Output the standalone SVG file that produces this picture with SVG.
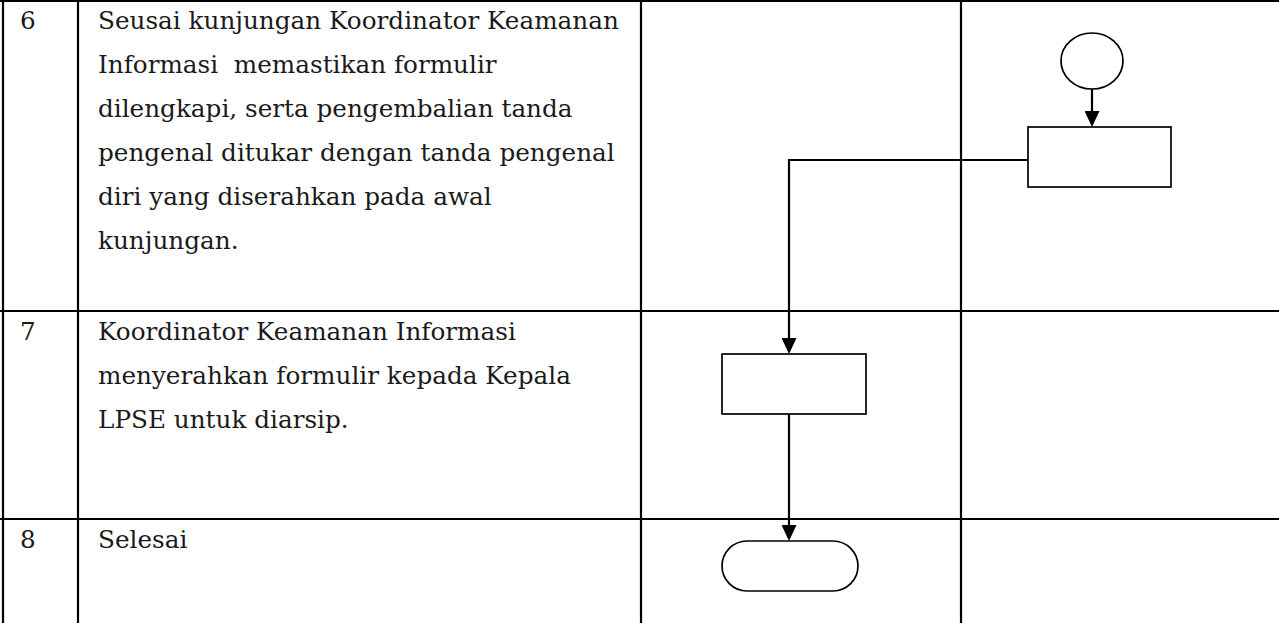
<svg xmlns="http://www.w3.org/2000/svg" width="1279" height="623" viewBox="0 0 1279 623">
<style>
.grid{stroke:#000;stroke-width:2.2;fill:none}
.shape{stroke:#000;stroke-width:1.7;fill:#fff}
.conn{stroke:#000;stroke-width:2.2;fill:none}
.t{font-family:"DejaVu Serif","Liberation Serif",serif;font-size:24.7px;fill:#1a1a1a}
</style>
<defs>
<marker id="arr" viewBox="0 0 16 15" refX="13" refY="7.5" markerWidth="16" markerHeight="15" markerUnits="userSpaceOnUse" orient="auto">
<path d="M0,0 L16,7.5 L0,15 z" fill="#000"/>
</marker>
</defs>
<rect width="1279" height="623" fill="#fff"/>
<g id="table" class="grid">
<line x1="0" y1="1" x2="1279" y2="1"/>
<line x1="0" y1="311" x2="1279" y2="311"/>
<line x1="0" y1="519" x2="1279" y2="519"/>
<line x1="3" y1="0" x2="3" y2="623"/>
<line x1="78" y1="0" x2="78" y2="623"/>
<line x1="641" y1="0" x2="641" y2="623"/>
<line x1="961" y1="0" x2="961" y2="623"/>
</g>
<g id="texts">
<text class="t" x="20" y="29">6</text>
<text class="t" x="98" y="29">Seusai kunjungan Koordinator Keamanan</text>
<text class="t" x="98" y="73" xml:space="preserve">Informasi  memastikan formulir</text>
<text class="t" x="98" y="117">dilengkapi, serta pengembalian tanda</text>
<text class="t" x="98" y="161">pengenal ditukar dengan tanda pengenal</text>
<text class="t" x="98" y="205">diri yang diserahkan pada awal</text>
<text class="t" x="98" y="249">kunjungan.</text>
<text class="t" x="20" y="340">7</text>
<text class="t" x="98" y="340">Koordinator Keamanan Informasi</text>
<text class="t" x="98" y="384">menyerahkan formulir kepada Kepala</text>
<text class="t" x="98" y="428">LPSE untuk diarsip.</text>
<text class="t" x="20" y="548">8</text>
<text class="t" x="98" y="548">Selesai</text>
</g>
<g id="node-start"><ellipse class="shape" cx="1092" cy="61" rx="31" ry="28"/></g>
<g id="node-process6"><rect class="shape" x="1028" y="127" width="143" height="60"/></g>
<g id="node-process7"><rect class="shape" x="722" y="354" width="144" height="60"/></g>
<g id="node-end"><rect class="shape" x="722" y="541" width="136" height="50" rx="25" ry="25"/></g>
<g id="connectors" class="conn">
<path d="M1092,89 L1092,124" marker-end="url(#arr)"/>
<path d="M1028,160 L789,160 L789,351" marker-end="url(#arr)"/>
<path d="M789,414 L789,538" marker-end="url(#arr)"/>
</g>
</svg>
